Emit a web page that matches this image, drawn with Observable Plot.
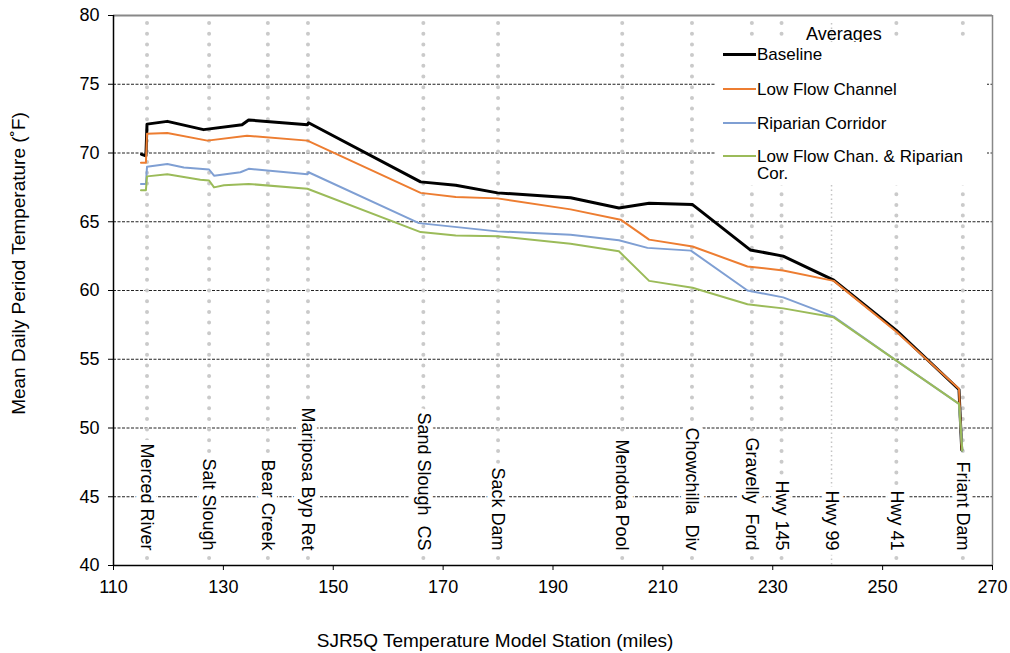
<!DOCTYPE html>
<html><head><meta charset="utf-8">
<script src="https://cdn.jsdelivr.net/npm/d3@7"></script>
<script src="https://cdn.jsdelivr.net/npm/@observablehq/plot@0.6"></script>
<style>
body{margin:0;background:#fff;font-family:Arial,"Liberation Sans",sans-serif;}
#wrap{position:relative;width:1010px;height:653px;}
#wrap svg{position:absolute;left:0;top:0;}
.legtitle{position:absolute;left:806px;top:25px;font-size:18px;line-height:18px;}
.legbox{position:absolute;left:715px;top:42px;width:272px;height:143px;background:#fff;}
.legline{position:absolute;left:8px;width:33px;}
.legtext{position:absolute;left:42px;width:222px;font-size:17px;line-height:17px;}
</style></head><body><div id="wrap"></div>
<script>
// Data
const xTicks = [110,130,150,170,190,210,230,250,270];
const yTicks = [40,45,50,55,60,65,70,75,80];
const gridValues = [45,50,55,60,65,70,75];
const stationNames = ["Merced River","Salt Slough","Bear Creek","Mariposa Byp Ret","Sand Slough  CS","Sack Dam","Mendota Pool","Chowchilla  Div","Gravelly  Ford","Hwy 145","Hwy 99","Hwy 41","Friant Dam"];
const stationMiles = [116.1,127.4,138.1,145.4,166.4,180.0,202.6,215.3,226.2,231.6,240.7,252.5,264.6];
const seriesNames = ["Baseline","Low Flow Channel","Riparian Corridor","Low Flow Chan. & Riparian Cor."];
const seriesColors = ["#000000","#ED7D31","#7F9FD3","#9BBB59"];
const seriesWidths = [3,2,2,2];
const baseline = [[115.1,69.9],[115.9,69.8],[116.1,72.1],[119.8,72.3],[126.4,71.7],[133.4,72.05],[134.6,72.4],[145.3,72.05],[145.5,72.2],[165.9,67.9],[172.3,67.65],[179.9,67.1],[193.2,66.75],[202.0,66.0],[207.5,66.35],[215.4,66.25],[225.9,62.95],[231.9,62.5],[241.1,60.75],[252.5,57.1],[263.9,52.8],[264.4,48.4]];
const lowFlow = [[115.0,69.3],[115.9,69.3],[116.1,71.4],[119.8,71.45],[127.1,70.9],[134.3,71.25],[145.3,70.9],[165.9,67.1],[172.3,66.8],[179.9,66.7],[193.2,65.9],[202.3,65.15],[207.5,63.7],[215.4,63.2],[225.4,61.75],[231.9,61.45],[241.1,60.7],[252.5,57.0],[263.9,52.85],[264.4,48.4]];
const riparian = [[115.0,67.75],[115.9,67.75],[116.1,69.0],[119.8,69.2],[122.8,68.95],[127.4,68.8],[128.3,68.35],[133.1,68.6],[134.6,68.85],[145.3,68.45],[145.5,68.6],[165.6,64.9],[179.9,64.3],[193.2,64.05],[202.0,63.65],[207.2,63.1],[215.1,62.9],[225.4,60.0],[231.9,59.5],[241.1,58.1],[252.5,54.9],[263.9,51.75],[264.5,48.35]];
const lowFlowRiparian = [[115.0,67.3],[115.9,67.3],[116.1,68.3],[119.8,68.45],[125.8,68.05],[127.4,68.0],[128.3,67.5],[130.1,67.65],[134.6,67.75],[145.3,67.4],[165.9,64.25],[172.3,64.0],[179.9,63.95],[193.2,63.4],[202.0,62.85],[207.5,60.7],[215.4,60.2],[225.4,59.0],[231.9,58.7],[241.1,58.05],[252.5,54.9],[263.9,51.75],[264.5,48.35]];
const xTitle = "SJR5Q Temperature Model Station (miles)";
const yTitle = "Mean Daily Period Temperature (˚F)";

const seriesData = [baseline, lowFlow, riparian, lowFlowRiparian];
const stations = stationNames.map((name,i)=>({name, mile: stationMiles[i]}));
const dotted = stations.filter(s=>s.name!=="Hwy 99");
const fine = stations.filter(s=>s.name==="Hwy 99");

const font = "Arial, 'Liberation Sans', sans-serif";
const plot = Plot.plot({
  width:1010, height:653,
  marginLeft:113, marginRight:18, marginTop:15, marginBottom:88,
  style:{fontFamily:font, fontSize:"18px", color:"#000", background:"transparent"},
  x:{domain:[110,270]},
  y:{domain:[40,80]},
  marks:[
    Plot.ruleY(gridValues, {stroke:"#222", strokeWidth:1, strokeDasharray:"3,1.5"}),
    Plot.ruleX(dotted, {x:"mile", stroke:"#cacaca", strokeWidth:4, strokeLinecap:"round", strokeDasharray:"0,10.7", insetTop:8}),
    Plot.ruleX(fine, {x:"mile", stroke:"#c4c4c4", strokeWidth:1.5, strokeDasharray:"1.5,3", insetTop:8}),
    Plot.text(stations, {x:"mile", text:"name", frameAnchor:"bottom", dy:-15, rotate:90, textAnchor:"end", lineAnchor:"middle", fontSize:18, fill:"#000", stroke:"#fff", strokeWidth:10}),
    ...seriesData.map((d,i)=>Plot.line(d, {x:d=>d[0], y:d=>d[1], stroke:seriesColors[i], strokeWidth:seriesWidths[i], strokeLinejoin:"round"})),
    Plot.ruleY([80], {stroke:"#888", strokeWidth:2}),
    Plot.ruleX([270], {stroke:"#888", strokeWidth:1.5}),
    Plot.ruleX([110], {stroke:"#000", strokeWidth:1.5}),
    Plot.ruleY([40], {stroke:"#000", strokeWidth:1.5}),
    Plot.axisY({ticks:yTicks, tickSize:5, tickPadding:9, fontSize:18, label:null, tickFormat:d=>String(d)}),
    Plot.axisX({ticks:xTicks, tickSize:5, tickPadding:10, fontSize:18, label:null, tickFormat:d=>String(d)}),
    Plot.text([xTitle], {text:d=>d, frameAnchor:"bottom", textAnchor:"middle", lineAnchor:"middle", dy:75, dx:-58, fontSize:19}),
    Plot.text([yTitle], {text:d=>d, frameAnchor:"left", textAnchor:"middle", lineAnchor:"middle", rotate:-90, dx:-95, dy:-27, fontSize:19})
  ]
});
const wrap = document.getElementById("wrap");
wrap.appendChild(plot);

// Legend overlay
const t = document.createElement("div");
t.className = "legtitle"; t.textContent = "Averages";
wrap.appendChild(t);
const box = document.createElement("div");
box.className = "legbox";
const centers = [12.3, 47, 81.3, 114];
seriesNames.forEach((name,i)=>{
  const ln = document.createElement("div");
  ln.className = "legline";
  ln.style.top = (centers[i] - seriesWidths[i]/2) + "px";
  ln.style.height = seriesWidths[i] + "px";
  ln.style.background = seriesColors[i];
  box.appendChild(ln);
  const tx = document.createElement("div");
  tx.className = "legtext";
  tx.style.top = (centers[i] - 8.5) + "px";
  tx.textContent = name;
  box.appendChild(tx);
});
wrap.appendChild(box);
</script>
</body></html>
